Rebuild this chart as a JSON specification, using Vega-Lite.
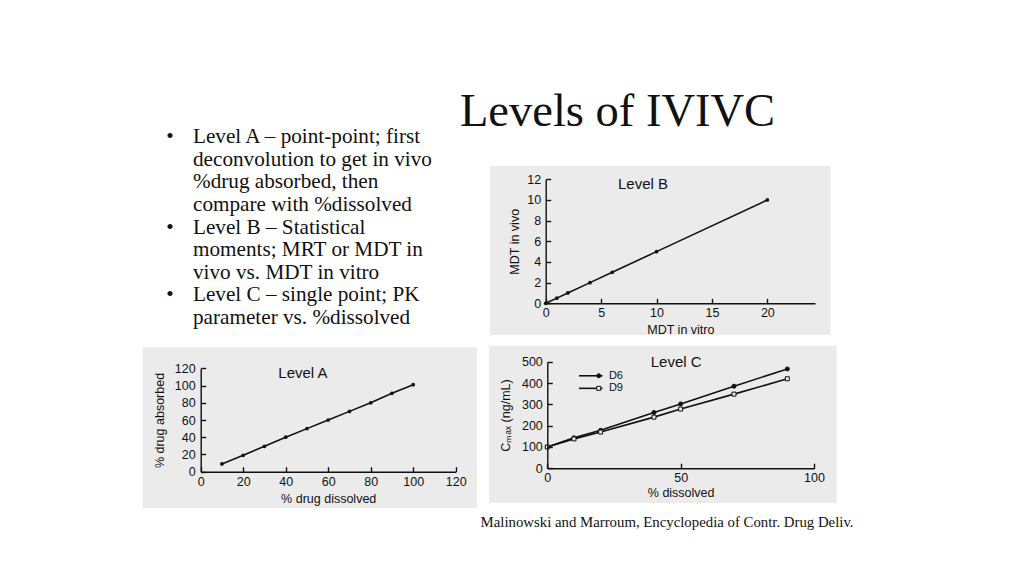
{
  "$schema": "https://vega.github.io/schema/vega-lite/v6.json",
  "width": 1024,
  "height": 576,
  "padding": 0,
  "autosize": {"type": "none"},
  "background": "white",
  "config": {
    "view": {"stroke": null},
    "axis": {
      "grid": false, "domainColor": "#111", "domainWidth": 1.4,
      "tickColor": "#111", "tickWidth": 1.4, "tickSize": -5,
      "labelFont": "Liberation Sans", "labelFontSize": 12.5, "labelColor": "#111",
      "titleFont": "Liberation Sans", "titleFontSize": 12.5, "titleFontWeight": "normal", "titleColor": "#111",
      "labelFlush": false, "labelOverlap": false
    }
  },
  "resolve": {
    "scale": {"x": "independent", "y": "independent"},
    "axis": {"x": "independent", "y": "independent"}
  },
  "layer": [
    {
      "layer": [
        {
          "data": {"values": [{}]},
          "mark": {"type": "rect", "fill": "#ebebeb"},
          "encoding": {
            "x": {"datum": -27.3, "type": "quantitative",
                  "scale": {"domain": [0, 120], "range": [200.7, 455.7], "nice": false, "zero": false},
                  "axis": {"zindex": 1, "orient": "bottom", "offset": -104.3, "values": [0, 20, 40, 60, 80, 100, 120], "title": "% drug dissolved", "labelPadding": 8.6, "titlePadding": 4.2}},
            "x2": {"datum": 130},
            "y": {"datum": -42.1, "type": "quantitative",
                  "scale": {"domain": [0, 120], "range": [471.7, 368.3], "nice": false, "zero": false},
                  "axis": {"zindex": 1, "orient": "left", "offset": -200.7, "values": [0, 20, 40, 60, 80, 100, 120], "title": "% drug absorbed", "labelPadding": 10.5, "titlePadding": 7.5}},
            "y2": {"datum": 144.4}
          }
        },
        {
          "data": {"values": [
            {"dissolved": 10, "absorbed": 9},
            {"dissolved": 20, "absorbed": 19},
            {"dissolved": 30, "absorbed": 29.5},
            {"dissolved": 40, "absorbed": 40},
            {"dissolved": 50, "absorbed": 50},
            {"dissolved": 60, "absorbed": 60},
            {"dissolved": 70, "absorbed": 70},
            {"dissolved": 80, "absorbed": 80},
            {"dissolved": 90, "absorbed": 91},
            {"dissolved": 100, "absorbed": 101}
          ]},
          "encoding": {
            "x": {"field": "dissolved", "type": "quantitative"},
            "y": {"field": "absorbed", "type": "quantitative"}
          },
          "layer": [
            {"mark": {"type": "line", "color": "#111", "strokeWidth": 1.6}},
            {"mark": {"type": "point", "filled": true, "color": "#111", "size": 14, "opacity": 1}}
          ]
        },
        {
          "data": {"values": [{"label": "Level A"}]},
          "mark": {"type": "text", "font": "Liberation Sans", "fontSize": 15, "color": "#111", "align": "center", "baseline": "middle"},
          "encoding": {
            "x": {"datum": 48.1, "type": "quantitative"},
            "y": {"datum": 114.9, "type": "quantitative"},
            "text": {"field": "label"}
          }
        }
      ]
    },
    {
      "layer": [
        {
          "data": {"values": [{}]},
          "mark": {"type": "rect", "fill": "#ebebeb"},
          "encoding": {
            "x": {"datum": -5.03, "type": "quantitative",
                  "scale": {"domain": [0, 24.3], "range": [545.7, 815], "nice": false, "zero": false},
                  "axis": {"zindex": 1, "orient": "bottom", "offset": -272.7, "values": [0, 5, 10, 15, 20], "title": "MDT in vitro", "labelPadding": 8.0, "titlePadding": 4.2}},
            "x2": {"datum": 25.72},
            "y": {"datum": -3.07, "type": "quantitative",
                  "scale": {"domain": [0, 12], "range": [303.3, 179.3], "nice": false, "zero": false},
                  "axis": {"zindex": 1, "orient": "left", "offset": -545.7, "values": [0, 2, 4, 6, 8, 10, 12], "title": "MDT in vivo", "labelPadding": 10, "titlePadding": 5.5}},
            "y2": {"datum": 13.29}
          }
        },
        {
          "data": {"values": [
            {"vitro": 0, "vivo": 0},
            {"vitro": 1, "vivo": 0.5},
            {"vitro": 2, "vivo": 1},
            {"vitro": 4, "vivo": 2},
            {"vitro": 6, "vivo": 3},
            {"vitro": 10, "vivo": 5},
            {"vitro": 20, "vivo": 10}
          ]},
          "encoding": {
            "x": {"field": "vitro", "type": "quantitative"},
            "y": {"field": "vivo", "type": "quantitative"}
          },
          "layer": [
            {"mark": {"type": "line", "color": "#111", "strokeWidth": 1.6}},
            {"mark": {"type": "point", "filled": true, "color": "#111", "size": 14, "opacity": 1}}
          ]
        },
        {
          "data": {"values": [{"label": "Level B"}]},
          "mark": {"type": "text", "font": "Liberation Sans", "fontSize": 15, "color": "#111", "align": "center", "baseline": "middle"},
          "encoding": {
            "x": {"datum": 8.78, "type": "quantitative"},
            "y": {"datum": 11.52, "type": "quantitative"},
            "text": {"field": "label"}
          }
        },
        {
          "data": {"values": [{"label": "Levels of IVIVC"}]},
          "mark": {"type": "text", "font": "Liberation Serif", "fontSize": 46.5, "color": "#111", "align": "center", "baseline": "alphabetic"},
          "encoding": {
            "x": {"datum": 6.48, "type": "quantitative"},
            "y": {"datum": 17.19, "type": "quantitative"},
            "text": {"field": "label"}
          }
        }
      ]
    },
    {
      "layer": [
        {
          "data": {"values": [{}]},
          "mark": {"type": "rect", "fill": "#ebebeb"},
          "encoding": {
            "x": {"datum": -21.86, "type": "quantitative",
                  "scale": {"domain": [0, 100], "range": [547.3, 814], "nice": false, "zero": false},
                  "axis": {"zindex": 1, "orient": "bottom", "offset": -107.7, "values": [0, 50, 100], "title": "% dissolved", "labelPadding": 8.0, "titlePadding": 2.6}},
            "x2": {"datum": 108.5},
            "y": {"datum": -162.7, "type": "quantitative",
                  "scale": {"domain": [0, 500], "range": [468.3, 361.7], "nice": false, "zero": false},
                  "axis": {"zindex": 1, "orient": "left", "offset": -547.3, "values": [0, 100, 200, 300, 400, 500], "title": "Cₘₐₓ (ng/mL)", "labelPadding": 10, "titlePadding": 9}},
            "y2": {"datum": 574.8}
          }
        },
        {
          "data": {"values": [
            {"series": "D6", "dissolved": 0, "cmax": 100},
            {"series": "D6", "dissolved": 10, "cmax": 143},
            {"series": "D6", "dissolved": 20, "cmax": 178},
            {"series": "D6", "dissolved": 40, "cmax": 262},
            {"series": "D6", "dissolved": 50, "cmax": 302},
            {"series": "D6", "dissolved": 70, "cmax": 385},
            {"series": "D6", "dissolved": 90, "cmax": 466},
            {"series": "D9", "dissolved": 0, "cmax": 100},
            {"series": "D9", "dissolved": 10, "cmax": 138},
            {"series": "D9", "dissolved": 20, "cmax": 170},
            {"series": "D9", "dissolved": 40, "cmax": 240},
            {"series": "D9", "dissolved": 50, "cmax": 278},
            {"series": "D9", "dissolved": 70, "cmax": 348},
            {"series": "D9", "dissolved": 90, "cmax": 420}
          ]},
          "encoding": {
            "x": {"field": "dissolved", "type": "quantitative"},
            "y": {"field": "cmax", "type": "quantitative"}
          },
          "layer": [
            {"mark": {"type": "line", "color": "#111", "strokeWidth": 1.6},
             "encoding": {"detail": {"field": "series"}}},
            {"mark": {"type": "point", "filled": true, "stroke": "#111", "strokeWidth": 1, "size": 16, "opacity": 1},
             "encoding": {"shape": {"field": "series", "scale": {"domain": ["D6", "D9"], "range": ["circle", "square"]}, "legend": null},
                          "fill": {"field": "series", "scale": {"domain": ["D6", "D9"], "range": ["#111111", "#ebebeb"]}, "legend": null}}}
          ]
        },
        {
          "data": {"values": [{}]},
          "mark": {"type": "rule", "color": "#111", "strokeWidth": 1.6},
          "encoding": {
            "x": {"datum": 11.9, "type": "quantitative"},
            "x2": {"datum": 20.7},
            "y": {"datum": 434, "type": "quantitative"}
          }
        },
        {
          "data": {"values": [{}]},
          "mark": {"type": "rule", "color": "#111", "strokeWidth": 1.6},
          "encoding": {
            "x": {"datum": 11.9, "type": "quantitative"},
            "x2": {"datum": 20.7},
            "y": {"datum": 375, "type": "quantitative"}
          }
        },
        {
          "data": {"values": [{}]},
          "mark": {"type": "point", "shape": "circle", "filled": true, "fill": "#111", "stroke": "#111", "strokeWidth": 1, "size": 16, "opacity": 1},
          "encoding": {
            "x": {"datum": 19.3, "type": "quantitative"},
            "y": {"datum": 434, "type": "quantitative"}
          }
        },
        {
          "data": {"values": [{}]},
          "mark": {"type": "point", "shape": "square", "filled": true, "fill": "#ebebeb", "stroke": "#111", "strokeWidth": 1, "size": 16, "opacity": 1},
          "encoding": {
            "x": {"datum": 19.3, "type": "quantitative"},
            "y": {"datum": 375, "type": "quantitative"}
          }
        },
        {
          "data": {"values": [{"label": "D6"}]},
          "mark": {"type": "text", "font": "Liberation Sans", "fontSize": 11, "color": "#111", "align": "left", "baseline": "middle"},
          "encoding": {
            "x": {"datum": 23.1, "type": "quantitative"},
            "y": {"datum": 434, "type": "quantitative"},
            "text": {"field": "label"}
          }
        },
        {
          "data": {"values": [{"label": "D9"}]},
          "mark": {"type": "text", "font": "Liberation Sans", "fontSize": 11, "color": "#111", "align": "left", "baseline": "middle"},
          "encoding": {
            "x": {"datum": 23.1, "type": "quantitative"},
            "y": {"datum": 375, "type": "quantitative"},
            "text": {"field": "label"}
          }
        },
        {
          "data": {"values": [{"label": "Level C"}]},
          "mark": {"type": "text", "font": "Liberation Sans", "fontSize": 15, "color": "#111", "align": "center", "baseline": "middle"},
          "encoding": {
            "x": {"datum": 48.3, "type": "quantitative"},
            "y": {"datum": 500, "type": "quantitative"},
            "text": {"field": "label"}
          }
        },
        {
          "data": {"values": [{"label": "Malinowski and Marroum, Encyclopedia of Contr. Drug Deliv."}]},
          "mark": {"type": "text", "font": "Liberation Serif", "fontSize": 14.8, "color": "#111", "align": "center", "baseline": "alphabetic"},
          "encoding": {
            "x": {"datum": 44.9, "type": "quantitative"},
            "y": {"datum": -275.2, "type": "quantitative"},
            "text": {"field": "label"}
          }
        }
      ]
    },
    {
      "data": {"values": [
        {"line": 1, "bullet": "•", "text": "Level A – point-point; first"},
        {"line": 2, "bullet": "", "text": "deconvolution to get in vivo"},
        {"line": 3, "bullet": "", "text": "%drug absorbed, then"},
        {"line": 4, "bullet": "", "text": "compare with %dissolved"},
        {"line": 5, "bullet": "•", "text": "Level B – Statistical"},
        {"line": 6, "bullet": "", "text": "moments; MRT or MDT in"},
        {"line": 7, "bullet": "", "text": "vivo vs. MDT in vitro"},
        {"line": 8, "bullet": "•", "text": "Level C – single point; PK"},
        {"line": 9, "bullet": "", "text": "parameter vs. %dissolved"}
      ]},
      "layer": [
        {
          "mark": {"type": "text", "font": "Liberation Serif", "fontSize": 21.2, "color": "#111", "align": "left", "baseline": "alphabetic"},
          "encoding": {
            "x": {"datum": 0, "type": "quantitative", "scale": {"domain": [0, 1], "range": [193, 450]}, "axis": null},
            "y": {"field": "line", "type": "quantitative", "scale": {"domain": [1, 9], "range": [143.3, 324], "nice": false, "zero": false}, "axis": null},
            "text": {"field": "text"}
          }
        },
        {
          "transform": [{"filter": "datum.bullet != ''"}],
          "mark": {"type": "text", "font": "Liberation Serif", "fontSize": 21.2, "color": "#111", "align": "center", "baseline": "alphabetic", "dx": -23},
          "encoding": {
            "x": {"datum": 0, "type": "quantitative", "axis": null},
            "y": {"field": "line", "type": "quantitative", "axis": null},
            "text": {"field": "bullet"}
          }
        }
      ]
    }
  ]
}
